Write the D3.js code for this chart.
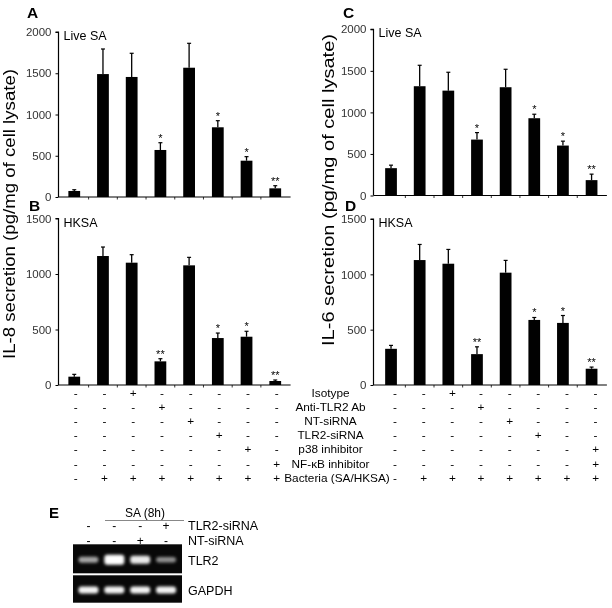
<!DOCTYPE html>
<html><head><meta charset="utf-8">
<script src="https://cdn.jsdelivr.net/npm/d3@7"></script>
<style>body{margin:0;background:#fff}svg{display:block;will-change:transform;opacity:0.999}text{font-family:"Liberation Sans",Arial,sans-serif}</style>
</head><body><div id="chart"></div>
<script>
// ---------- DATA ----------
const groups = ["1","2","3","4","5","6","7","8"];
const il8LiveMean = [73,1490,1455,570,1567,845,440,105];
const il8LiveErr  = [15,304,287,88,296,80,49,32];
const il8LiveSig  = ["","","","*","","*","*","**"];
const il8HksaMean = [75,1162,1102,213,1078,423,435,36];
const il8HksaErr  = [21,81,72,24,72,45,49,9];
const il8HksaSig  = ["","","","**","","*","*","**"];
const il6LiveMean = [329,1315,1262,673,1303,930,601,185];
const il6LiveErr  = [36,252,221,84,216,48,53,72];
const il6LiveSig  = ["","","","*","","*","*","**"];
const il6HksaMean = [327,1129,1096,279,1015,588,561,147];
const il6HksaErr  = [31,141,129,66,111,22,67,15];
const il6HksaSig  = ["","","","**","","*","*","**"];
const liveTicks = [0,500,1000,1500,2000];
const hksaTicks = [0,500,1000,1500];
const conditions = ["Isotype","Anti-TLR2 Ab","NT-siRNA","TLR2-siRNA","p38 inhibitor","NF-\u03baB inhibitor","Bacteria (SA/HKSA)"];
const signsLeft = [
  ["-","-","+","-","-","-","-","-"],
  ["-","-","-","+","-","-","-","-"],
  ["-","-","-","-","+","-","-","-"],
  ["-","-","-","-","-","+","-","-"],
  ["-","-","-","-","-","-","+","-"],
  ["-","-","-","-","-","-","-","+"],
  ["-","+","+","+","+","+","+","+"]];
const signsRight = [
  ["-","-","+","-","-","-","-","-"],
  ["-","-","-","+","-","-","-","-"],
  ["-","-","-","-","+","-","-","-"],
  ["-","-","-","-","-","+","-","-"],
  ["-","-","-","-","-","-","-","+"],
  ["-","-","-","-","-","-","-","+"],
  ["-","+","+","+","+","+","+","+"]];
// Panel E (RT-PCR gel)
const lanes = ["L1","L2","L3","L4"];
const gelTLR2siRNA = ["-","-","-","+"];
const gelNTsiRNA   = ["-","-","+","-"];
const tlr2Intensity  = [0.6,1.0,0.9,0.5];
const tlr2Thickness  = [0.6,1.0,0.8,0.55];
const gapdhIntensity = [0.95,0.95,0.95,0.95];
const gapdhThickness = [0.7,0.7,0.7,0.7];

// ---------- DRAW ----------
const W=612,H=608;
const svg=d3.select("#chart").append("svg").attr("width",W).attr("height",H);
const defs=svg.append("defs");
defs.append("filter").attr("id","glow").attr("x","-50%").attr("y","-100%").attr("width","200%").attr("height","300%")
  .append("feGaussianBlur").attr("stdDeviation",1.6);

function panel(o){
  const x=d3.scaleBand().domain(groups).range(o.xr).paddingInner(0.59).paddingOuter(0.295);
  const y=d3.scaleLinear().domain(o.domain).range(o.yr);
  const g=svg.append("g");
  const ya=g.append("g").attr("transform",`translate(${o.ax},0)`)
    .call(d3.axisLeft(y).tickValues(o.ticks).tickSize(3).tickPadding(4).tickFormat(d3.format("d")));
  ya.select(".domain").attr("stroke","#000").attr("stroke-width",1.2).attr("d",`M-3,${y(o.domain[1])}H0V${y(0)}`);
  ya.selectAll(".tick line").attr("stroke","#000").attr("stroke-width",1);
  ya.selectAll(".tick text").attr("font-size",11.5).attr("fill","#333");
  const xa=g.append("g").attr("transform",`translate(0,${y(0)})`);
  xa.append("line").attr("x1",o.ax).attr("x2",o.xr[1]+1).attr("stroke","#000").attr("stroke-width",1.2);
  const step=x.step();
  xa.selectAll("line.tk").data(groups.slice(1)).join("line").attr("class","tk")
    .attr("x1",d=>x(d)-(step-x.bandwidth())/2).attr("x2",d=>x(d)-(step-x.bandwidth())/2)
    .attr("y1",0).attr("y2",2.5).attr("stroke","#000").attr("stroke-width",0.8);
  g.selectAll("rect.bar").data(o.mean).join("rect").attr("class","bar")
    .attr("x",(d,i)=>x(groups[i])).attr("width",x.bandwidth())
    .attr("y",d=>y(d)).attr("height",d=>y(0)-y(d)).attr("fill","#000");
  const cx=i=>x(groups[i])+x.bandwidth()/2;
  g.selectAll("line.err").data(o.mean).join("line").attr("class","err")
    .attr("x1",(d,i)=>cx(i)).attr("x2",(d,i)=>cx(i))
    .attr("y1",d=>y(d)).attr("y2",(d,i)=>y(d+o.err[i])).attr("stroke","#000").attr("stroke-width",1.3);
  g.selectAll("line.cap").data(o.mean).join("line").attr("class","cap")
    .attr("x1",(d,i)=>cx(i)-2).attr("x2",(d,i)=>cx(i)+2)
    .attr("y1",(d,i)=>y(d+o.err[i])).attr("y2",(d,i)=>y(d+o.err[i])).attr("stroke","#000").attr("stroke-width",1.2);
  g.selectAll("text.sig").data(o.sig).join("text").attr("class","sig")
    .attr("x",(d,i)=>cx(i)).attr("y",(d,i)=>y(o.mean[i]+o.err[i])-1)
    .attr("text-anchor","middle").attr("font-size",11).attr("fill","#000").text(d=>d);
  g.append("text").attr("x",o.ax+5).attr("y",y(o.domain[1])+8).attr("font-size",12.5).text(o.title);
  g.append("text").attr("x",o.lx).attr("y",o.ly).attr("font-size",15.5).attr("font-weight","bold").text(o.letter);
  return x;
}

const xA=panel({xr:[59.9,289.6],ax:58.5,domain:[0,2000],yr:[197,32],ticks:liveTicks,mean:il8LiveMean,err:il8LiveErr,sig:il8LiveSig,title:"Live SA",letter:"A",lx:27,ly:17.5});
panel({xr:[59.9,289.6],ax:58.5,domain:[0,1500],yr:[385,218.5],ticks:hksaTicks,mean:il8HksaMean,err:il8HksaErr,sig:il8HksaSig,title:"HKSA",letter:"B",lx:29,ly:210.5});
const xC=panel({xr:[376.7,605.9],ax:373.5,domain:[0,2000],yr:[195.5,29.3],ticks:liveTicks,mean:il6LiveMean,err:il6LiveErr,sig:il6LiveSig,title:"Live SA",letter:"C",lx:343,ly:17.5});
panel({xr:[376.7,605.9],ax:373.5,domain:[0,1500],yr:[385,219],ticks:hksaTicks,mean:il6HksaMean,err:il6HksaErr,sig:il6HksaSig,title:"HKSA",letter:"D",lx:345,ly:210.5});

// y labels
svg.append("text").attr("transform","translate(14.5,214) rotate(-90)").attr("text-anchor","middle").attr("font-size",16)
  .attr("textLength",290).attr("lengthAdjust","spacingAndGlyphs")
  .text("IL-8 secretion (pg/mg of cell lysate)");
svg.append("text").attr("transform","translate(333.5,190) rotate(-90)").attr("text-anchor","middle").attr("font-size",16)
  .attr("textLength",312).attr("lengthAdjust","spacingAndGlyphs")
  .text("IL-6 secretion (pg/mg of cell lysate)");

// condition table
const rowY=d3.scaleLinear().domain([0,6]).range([396.5,481.7]);
const tbl=svg.append("g").attr("font-size",11.8);
conditions.forEach((c,r)=>{
  tbl.append("text").attr("x",r===6?337:330.5).attr("y",rowY(r)).attr("text-anchor","middle").text(c);
  signsLeft[r].forEach((s,i)=>{
    tbl.append("text").attr("x",xA(groups[i])+xA.bandwidth()/2+1.5).attr("y",rowY(r)).attr("text-anchor","middle").text(s);
  });
  signsRight[r].forEach((s,i)=>{
    tbl.append("text").attr("x",xC(groups[i])+xC.bandwidth()/2+4).attr("y",rowY(r)).attr("text-anchor","middle").text(s);
  });
});

// ---------- Panel E ----------
const gx=d3.scaleBand().domain(lanes).range([75.5,179]).paddingInner(0.2).paddingOuter(0.1);
const eg=svg.append("g");
eg.append("text").attr("x",49).attr("y",518).attr("font-size",15).attr("font-weight","bold").text("E");
eg.append("text").attr("x",145).attr("y",516.5).attr("text-anchor","middle").attr("font-size",12).text("SA (8h)");
eg.append("line").attr("x1",105).attr("x2",184).attr("y1",520.5).attr("y2",520.5).attr("stroke","#888").attr("stroke-width",1);
const lc=l=>gx(l)+gx.bandwidth()/2;
eg.selectAll("text.r1").data(gelTLR2siRNA).join("text").attr("class","r1")
  .attr("x",(d,i)=>lc(lanes[i])).attr("y",530).attr("text-anchor","middle").attr("font-size",12).text(d=>d);
eg.selectAll("text.r2").data(gelNTsiRNA).join("text").attr("class","r2")
  .attr("x",(d,i)=>lc(lanes[i])).attr("y",545).attr("text-anchor","middle").attr("font-size",12).text(d=>d);
eg.append("text").attr("x",188).attr("y",530).attr("font-size",12.5).text("TLR2-siRNA");
eg.append("text").attr("x",188).attr("y",545).attr("font-size",12.5).text("NT-siRNA");
eg.append("text").attr("x",188).attr("y",565).attr("font-size",12.5).text("TLR2");
eg.append("text").attr("x",188).attr("y",595).attr("font-size",12.5).text("GAPDH");

function gel(y0,y1,inten,thick){
  eg.append("rect").attr("x",73).attr("y",y0).attr("width",109).attr("height",y1-y0).attr("fill","#080808");
  const cy=(y0+y1)/2+1;
  eg.selectAll(null).data(inten).join("rect")
    .attr("x",(d,i)=>lc(lanes[i])-10).attr("width",20)
    .attr("y",(d,i)=>cy-thick[i]*5).attr("height",(d,i)=>thick[i]*10)
    .attr("rx",3).attr("fill",(d)=>d3.interpolateRgb("#202020","#ffffff")(d))
    .attr("filter","url(#glow)");
}
gel(544.3,573.3,tlr2Intensity,tlr2Thickness);
gel(575.3,602.7,gapdhIntensity,gapdhThickness);
</script></body></html>
